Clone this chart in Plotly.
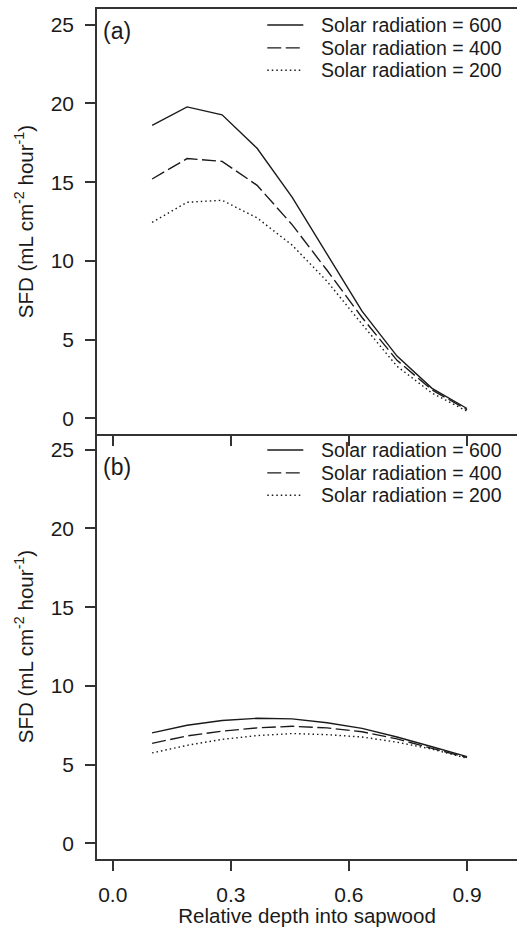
import plotly.graph_objects as go

# ---------------- data ----------------
depth = [0.1, 0.1889, 0.2778, 0.3667, 0.4556, 0.5444, 0.6333, 0.7222, 0.8111, 0.9]

# Panel (a)
a_600 = [18.6, 19.78, 19.28, 17.15, 14.05, 10.4, 6.8, 3.95, 1.9, 0.62]
a_400 = [15.2, 16.5, 16.32, 14.8, 12.3, 9.4, 6.4, 3.68, 1.8, 0.54]
a_200 = [12.45, 13.72, 13.85, 12.73, 11.0, 8.7, 5.98, 3.3, 1.6, 0.45]

# Panel (b)
b_600 = [7.01, 7.5, 7.8, 7.94, 7.9, 7.66, 7.3, 6.75, 6.13, 5.5]
b_400 = [6.35, 6.82, 7.12, 7.33, 7.43, 7.33, 7.08, 6.63, 6.03, 5.45]
b_200 = [5.74, 6.22, 6.6, 6.84, 6.97, 6.9, 6.75, 6.42, 5.98, 5.4]

series_labels = ["Solar radiation = 600", "Solar radiation = 400", "Solar radiation = 200"]
panel_labels = ["(a)", "(b)"]
y_ticks = [0, 5, 10, 15, 20, 25]
x_ticks = [0.0, 0.3, 0.6, 0.9]
x_ticklabels = ["0.0", "0.3", "0.6", "0.9"]
x_title = "Relative depth into sapwood"
y_title = "SFD (mL cm<sup>-2</sup> hour<sup>-1</sup>)"

# ---------------- style ----------------
FONT = "Liberation Sans, Arial, Helvetica, sans-serif"
TICK_FS = 21
TITLE_FS = 20.5
LEG_FS = 19.5
INK = "#1a1a1a"
AX = "#333333"
dashes = ["solid", "14px,4.5px", "1.5px,3px"]

fig = go.Figure()

panels = [([a_600, a_400, a_200], "x", "y"), ([b_600, b_400, b_200], "x2", "y2")]
for vals, xa, ya in panels:
    for v, lab, d in zip(vals, series_labels, dashes):
        fig.add_trace(go.Scatter(
            x=depth, y=v, mode="lines", name=lab, xaxis=xa, yaxis=ya,
            line=dict(color=INK, width=1.4, dash=d), showlegend=False))

# manual legends + panel labels
leg_rows = [24.98, 23.53, 22.11]
for (vals, xa, ya), plab, ply in zip(panels, panel_labels, [24.6, 23.9]):
    for lab, d, yy in zip(series_labels, dashes, leg_rows):
        fig.add_shape(type="line", xref=xa, yref=ya, x0=0.3926, x1=0.4841, y0=yy, y1=yy,
                      line=dict(color=INK, width=1.4, dash=d))
        fig.add_annotation(xref=xa, yref=ya, x=0.5246, y=yy, text=lab, showarrow=False,
                           xanchor="left", yanchor="middle",
                           font=dict(family=FONT, size=LEG_FS, color=INK))
    fig.add_annotation(xref=xa, yref=ya, x=-0.031, y=ply, text=plab, showarrow=False,
                       xanchor="left", yanchor="middle",
                       font=dict(family=FONT, size=23, color=INK))

xcommon = dict(range=[-0.04, 1.027], tickvals=x_ticks, ticktext=x_ticklabels,
               ticks="outside", ticklen=10, tickwidth=1.5, tickcolor=AX,
               showline=True, linecolor=AX, linewidth=1.5, showgrid=False, zeroline=False,
               tickfont=dict(family=FONT, size=TICK_FS, color=INK), domain=[0, 1])
ycommon = dict(range=[-1, 26], tickvals=y_ticks, ticks="outside", ticklen=10, tickwidth=1.5,
               tickcolor=AX, showline=True, linecolor=AX, linewidth=1.5, showgrid=False,
               zeroline=False, tickfont=dict(family=FONT, size=TICK_FS, color=INK),
               ticklabelstandoff=7,
               title=dict(text=y_title, font=dict(family=FONT, size=TITLE_FS, color=INK),
                          standoff=12))

fig.update_layout(
    width=517, height=927, autosize=False,
    margin=dict(l=97, r=0, t=9, b=68),
    paper_bgcolor="white", plot_bgcolor="rgba(0,0,0,0)",
    xaxis=dict(xcommon, anchor="y", showticklabels=False, mirror=True),
    yaxis=dict(ycommon, domain=[0.5, 1], anchor="x"),
    xaxis2=dict(xcommon, anchor="y2", ticklabelstandoff=6,
                title=dict(text=x_title, font=dict(family=FONT, size=TITLE_FS, color=INK),
                           standoff=5)),
    yaxis2=dict(ycommon, domain=[0, 0.5], anchor="x2"),
    showlegend=False,
)

fig.write_html("out.html")
